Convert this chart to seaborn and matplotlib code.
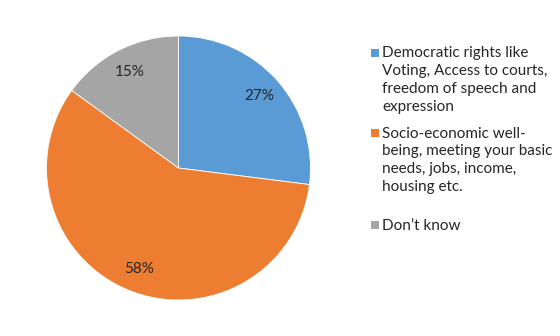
import matplotlib
matplotlib.use("Agg")
import matplotlib.pyplot as plt
from matplotlib.patches import Rectangle
import numpy as np
import seaborn as sns

categories = [
    "Democratic rights like\nVoting, Access to courts,\nfreedom of speech and\nexpression",
    "Socio-economic well-\nbeing, meeting your basic\nneeds, jobs, income,\nhousing etc.",
    "Don\u2019t know",
]
values = [27, 58, 15]
pct_labels = ["27%", "58%", "15%"]
colors = ["#5B9BD5", "#ED7D31", "#A5A5A5"]

sns.set_theme(style="white")
plt.rcParams["font.family"] = ["Lato", "DejaVu Sans"]

W, H = 560, 336
fig = plt.figure(figsize=(W / 100, H / 100), dpi=100)
ax = fig.add_axes([46.5 / W, 36 / H, 264 / W, 264 / H])

palette = sns.color_palette(colors)
wedges, texts = ax.pie(
    values,
    colors=palette,
    startangle=90,
    counterclock=False,
    wedgeprops=dict(edgecolor="white", linewidth=0.6),
)
for w, lab in zip(wedges, pct_labels):
    ang = np.deg2rad((w.theta1 + w.theta2) / 2)
    ax.text(0.82 * np.cos(ang), 0.82 * np.sin(ang), lab, ha="center", va="center",
            fontsize=11, color="#262626")
ax.set_xlim(-1, 1)
ax.set_ylim(-1, 1)
ax.set_aspect("equal")
ax.axis("off")

# legend (manual layout so the marker sits on the first line)
legend_marker_cy = [53, 133, 225]   # pixel rows of the legend markers
for cat, col, cy in zip(categories, palette, legend_marker_cy):
    fig.patches.append(Rectangle((371 / W, 1 - (cy + 4) / H), 8 / W, 8 / H,
                                 transform=fig.transFigure, facecolor=col,
                                 edgecolor="none"))
    fig.text(382 / W, 1 - (cy - 6.5) / H, cat, ha="left", va="top",
             fontsize=11, color="#262626", linespacing=1.36)

fig.savefig("out.png", dpi=100)
